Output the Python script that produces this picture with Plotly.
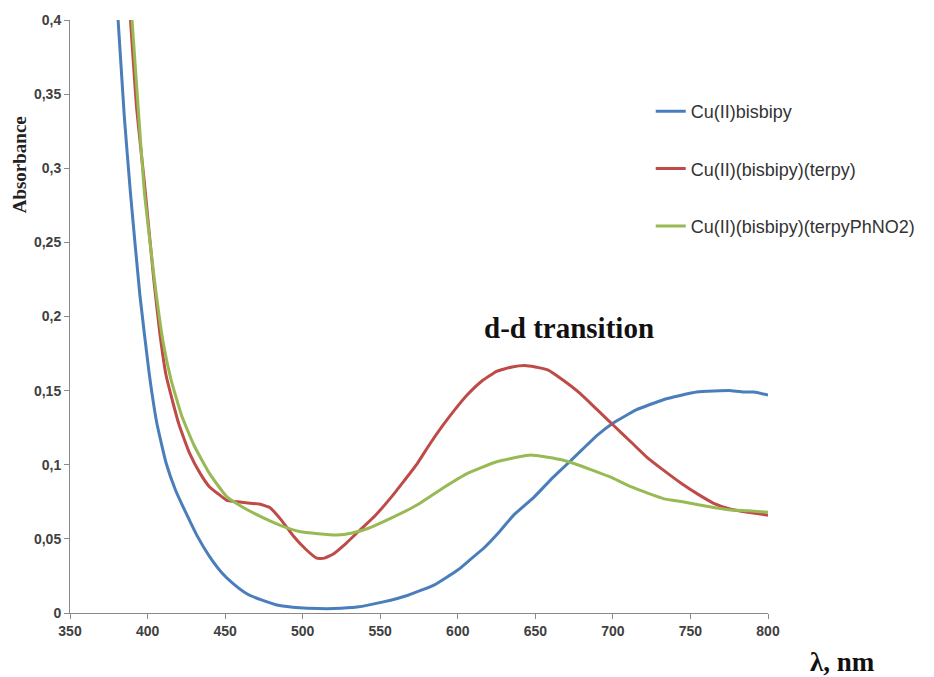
import plotly.graph_objects as go

# wavelength (nm) / absorbance
wl_blue = [381, 385, 389, 395, 401, 406, 412, 418, 425, 432, 440, 448, 455, 464, 473,
           485, 498, 510, 520, 535, 552, 568, 585, 600, 608, 617, 627, 636, 649, 660,
           668, 680, 690, 700, 715, 733, 754, 776, 785, 791, 800]
abs_blue = [0.400, 0.335, 0.283, 0.215, 0.162, 0.128, 0.101, 0.083, 0.067, 0.052, 0.038,
            0.027, 0.020, 0.013, 0.009, 0.005, 0.0035, 0.003, 0.003, 0.004, 0.0075, 0.012,
            0.019, 0.029, 0.036, 0.044, 0.055, 0.066, 0.078, 0.090, 0.098, 0.110, 0.120,
            0.128, 0.137, 0.144, 0.149, 0.150, 0.149, 0.149, 0.147]

wl_red = [389, 393, 398, 404, 408, 412, 420, 427, 434, 440, 446, 451, 458, 466, 472, 479,
          486, 494, 502, 509, 514, 520, 528, 537, 547, 557, 566, 574, 582, 590, 598, 606,
          615, 625, 635, 643, 650, 658, 668, 679, 690, 701, 712, 722, 733, 744, 755, 765,
          776, 787, 800]
abs_red = [0.400, 0.340, 0.290, 0.225, 0.188, 0.160, 0.128, 0.108, 0.094, 0.085, 0.080,
           0.076, 0.075, 0.074, 0.0735, 0.071, 0.063, 0.052, 0.043, 0.037, 0.037, 0.040,
           0.047, 0.056, 0.066, 0.078, 0.090, 0.101, 0.114, 0.126, 0.137, 0.147, 0.156,
           0.163, 0.166, 0.167, 0.166, 0.164, 0.157, 0.148, 0.137, 0.126, 0.115, 0.105,
           0.096, 0.0875, 0.080, 0.074, 0.070, 0.068, 0.066]

wl_green = [390, 394, 398, 405, 410, 415, 422, 430, 440, 451, 462, 473, 486, 498, 510, 522,
            532, 542, 557, 574, 590, 606, 625, 638, 647, 658, 668, 680, 690, 700, 712, 722,
            733, 745, 755, 766, 776, 787, 800]
abs_green = [0.400, 0.340, 0.283, 0.220, 0.183, 0.158, 0.133, 0.113, 0.094, 0.0785, 0.071,
             0.065, 0.059, 0.055, 0.0535, 0.0526, 0.054, 0.057, 0.064, 0.073, 0.084, 0.094,
             0.102, 0.105, 0.1066, 0.105, 0.103, 0.099, 0.095, 0.091, 0.085, 0.081, 0.077,
             0.075, 0.073, 0.071, 0.0695, 0.069, 0.068]

names = ["Cu(II)bisbipy", "Cu(II)(bisbipy)(terpy)", "Cu(II)(bisbipy)(terpyPhNO2)"]
colors = ["#4A7EBB", "#BE4B48", "#98B954"]

fig = go.Figure()
for i, (x, y) in enumerate([(wl_blue, abs_blue), (wl_red, abs_red), (wl_green, abs_green)]):
    fig.add_trace(go.Scatter(x=x, y=y, mode="lines", name=names[i], legendgroup=str(i),
                             line=dict(color=colors[i], width=3, shape="spline", smoothing=0.4)))

axis_style = dict(showline=True, linecolor="#898989", linewidth=1, showgrid=False,
                  zeroline=False, ticks="outside", ticklen=5, tickcolor="#898989",
                  automargin=False,
                  tickfont=dict(family="Liberation Sans", size=14, color="#404040", weight="bold"))

fig.update_xaxes(range=[350, 800], dtick=50, **axis_style)
fig.update_yaxes(range=[0, 0.4], dtick=0.05, **axis_style)

fig.add_annotation(text="Absorbance", xref="paper", yref="paper", x=-0.073, y=0.755,
                   xanchor="center", yanchor="middle", textangle=-90, showarrow=False,
                   font=dict(family="Liberation Serif", size=19, color="#222", weight="bold"))
fig.add_annotation(text="λ, nm", xref="paper", yref="paper", x=1.107, y=-0.083,
                   xanchor="center", yanchor="middle", showarrow=False,
                   font=dict(family="Liberation Serif", size=27, color="#111", weight="bold"))
fig.add_annotation(text="d-d transition", x=672, y=0.192, showarrow=False,
                   xanchor="center", yanchor="middle",
                   font=dict(family="Liberation Serif", size=29, color="#111", weight="bold"))

fig.update_layout(
    width=934, height=677,
    margin=dict(l=62, r=174, t=12, b=72, autoexpand=False),
    paper_bgcolor="white", plot_bgcolor="white",
    separators=", ",
    legend=dict(x=0.832, y=0.877, xanchor="left", yanchor="top", tracegroupgap=31,
                bgcolor="rgba(0,0,0,0)",
                font=dict(family="Liberation Sans", size=18, color="#333")),
)

fig.write_html("out.html")
